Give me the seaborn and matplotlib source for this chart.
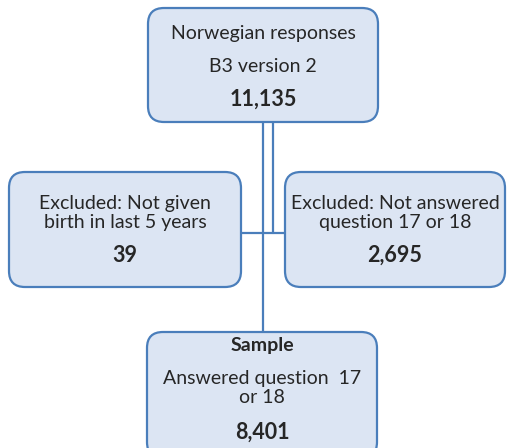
import matplotlib.pyplot as plt
import seaborn as sns
from matplotlib.patches import FancyBboxPatch

# flowchart content
box_titles = ["Norwegian responses\nB3 version 2",
              "Excluded: Not given\nbirth in last 5 years",
              "Excluded: Not answered\nquestion 17 or 18",
              "Answered question  17\nor 18"]
box_headers = ["", "", "", "Sample"]
box_counts = [11135, 39, 2695, 8401]

# layout in pixel coordinates: (left, top, width, height)
layout = [(148, 8, 230, 114),
          (9, 172, 232, 115),
          (285, 172, 220, 115),
          (147, 332, 230, 126)]

sns.set_theme(style="white")
plt.rcParams['font.family'] = ['Lato', 'DejaVu Sans']

fill = "#dce5f3"
edge = "#4a7ebb"
fs = 14
fs_bold = 15.5

fig = plt.figure(figsize=(5.1, 4.48), dpi=100)
ax = fig.add_axes([0, 0, 1, 1])
ax.set_xlim(0, 510)
ax.set_ylim(448, 0)
ax.axis("off")

# connectors
ax.plot([263, 263], [122, 332], color=edge, lw=1.6, zorder=1)
ax.plot([273, 273], [122, 233], color=edge, lw=1.6, zorder=1)
ax.plot([241, 285], [233, 233], color=edge, lw=1.6, zorder=1)

for i, (x, y, w, h) in enumerate(layout):
    ax.add_patch(FancyBboxPatch((x, y), w, h,
                                boxstyle="round,pad=0,rounding_size=16",
                                fc=fill, ec=edge, lw=1.6, zorder=2))
    cx = x + w / 2
    if i == 0:
        top, bottom = box_titles[i].split("\n")
        ax.text(cx, 33, top, ha="center", va="center", fontsize=fs, zorder=3)
        ax.text(cx, 67, bottom, ha="center", va="center", fontsize=fs, zorder=3)
        ax.text(cx, 99, f"{box_counts[i]:,}", ha="center", va="center",
                fontsize=fs_bold, fontweight="bold", zorder=3)
    elif i in (1, 2):
        ax.text(cx, 213, box_titles[i], ha="center", va="center", fontsize=fs,
                linespacing=1.15, zorder=3)
        ax.text(cx, 255, f"{box_counts[i]:,}", ha="center", va="center",
                fontsize=fs_bold, fontweight="bold", zorder=3)
    else:
        ax.text(cx, 345, box_headers[i], ha="center", va="center", fontsize=fs,
                fontweight="bold", zorder=3)
        ax.text(cx, 388, box_titles[i], ha="center", va="center", fontsize=fs,
                linespacing=1.15, zorder=3)
        ax.text(cx, 432, f"{box_counts[i]:,}", ha="center", va="center",
                fontsize=fs_bold, fontweight="bold", zorder=3)

fig.savefig("out.png", dpi=100)
